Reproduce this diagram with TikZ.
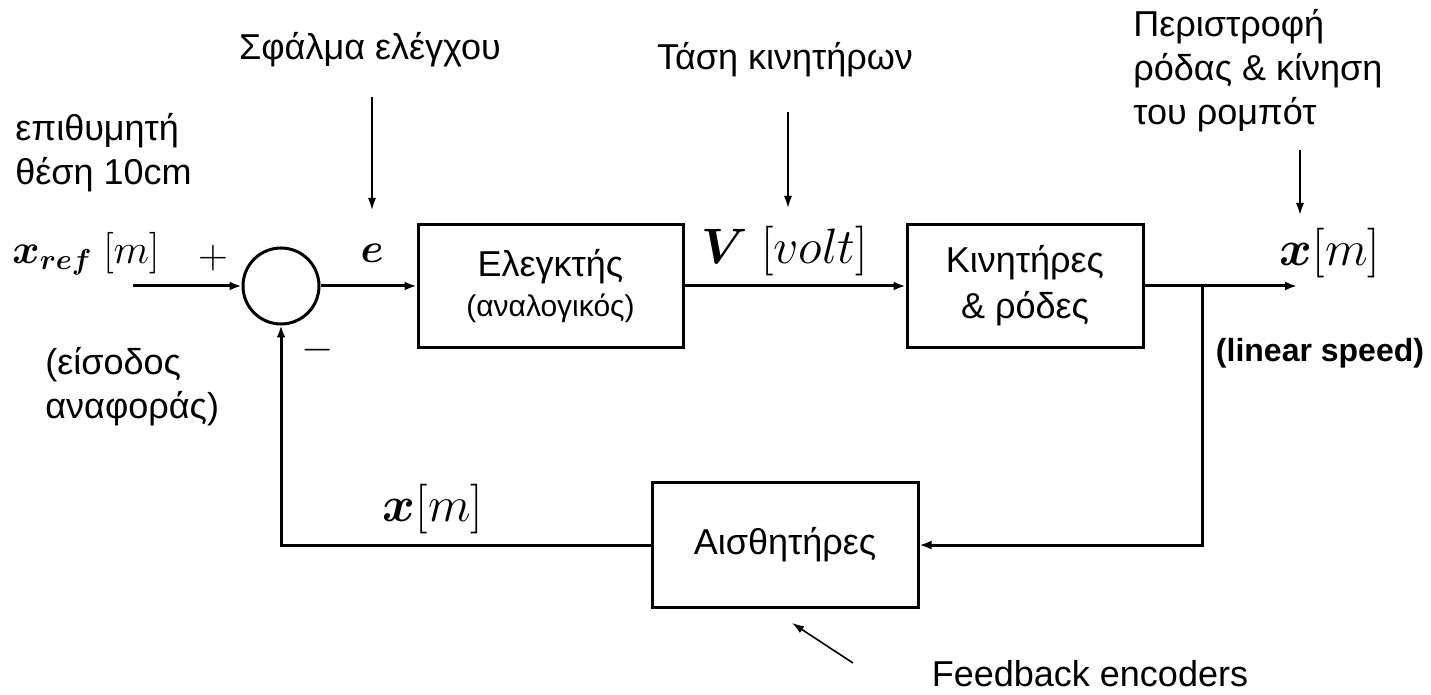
\documentclass[tikz,border=0pt]{standalone}
\usepackage{fontspec}
\usepackage{amsmath}
\usepackage{bm}
\setmainfont{Liberation Sans}
\usetikzlibrary{arrows.meta}
\begin{document}
\begin{tikzpicture}[x=0.5pt,y=-0.5pt,
  blk/.style={draw,line width=1.5pt,minimum width=#1,inner sep=0pt,minimum height=61.5pt,align=center,font=\fontsize{18}{22}\selectfont},
  sumc/.style={draw,circle,line width=1.5pt,minimum size=38pt,inner sep=0pt},
  wire/.style={line width=1.5pt,-{Latex[length=6pt,width=4.5pt]}},
  note/.style={line width=0.8pt,-{Latex[length=6pt,width=4pt]}},
  txt/.style={font=\fontsize{18}{22}\selectfont,inner sep=0pt},
  mlab/.style={font=\fontsize{22}{24}\selectfont,inner sep=0pt}]
\useasboundingbox (0,0) rectangle (1431,695);
% blocks
\node[sumc] (sum) at (281,286) {};
\node[blk=132.5pt] (ctrl) at (550.5,286) {Ελεγκτής\\[-2pt]{\fontsize{15}{18}\selectfont (αναλογικός)}};
\node[blk=118pt] (motor) at (1025,286) {Κινητήρες\\[1pt]\& ρόδες};
\node[blk=133pt,minimum height=62.5pt] (sens) at (785,545) {Αισθητήρες};
% connector coordinates
\coordinate (in) at (133,286);
\coordinate (out) at (1297,286);
\coordinate (br) at (1202,286);
% main connectors
\draw[wire] (in) -- (sum.west);
\draw[wire] (sum.east) -- (ctrl.west);
\draw[wire] (ctrl.east) -- (motor.west);
\draw[wire] (motor.east) -- (out);
\draw[wire] (br) |- (sens.east);
\draw[wire] (sens.west) -| (sum.south);
% signal labels
\node[mlab,font=\fontsize{19.5}{22}\selectfont] (xref) at (86,254) {$\bm{x}_{\bm{ref}}\ [m]$};
\node[mlab] (plus) at (213,258) {$+$};
\node[mlab] (minus) at (318,350) {$-$};
\node[mlab,font=\fontsize{22}{24}\selectfont] (elab) at (372,253) {$\bm{e}$};
\node[mlab,font=\fontsize{23}{24}\selectfont] (vlab) at (785,251) {$\bm{V}\ [volt]$};
\node[mlab,font=\fontsize{24.5}{26}\selectfont] (xout) at (1330,253) {$\bm{x}[m]$};
\node[mlab,font=\fontsize{24.5}{26}\selectfont] (xfb) at (433,509) {$\bm{x}[m]$};
% annotations
\node[txt,align=left,anchor=west] (goal) at (15,153) {επιθυμητή\\θέση 10cm};
\node[txt,align=left,anchor=west] (refin) at (45,387) {(είσοδος\\αναφοράς)};
\node[txt] (errt) at (370,50) {Σφάλμα ελέγχου};
\node[txt] (volt) at (785,60) {Τάση κινητήρων};
\node[txt,align=left,anchor=west] (rot) at (1133,71) {Περιστροφή\\ρόδας \& κίνηση\\του ρομπότ};
\node[txt,font=\fontsize{16}{20}\selectfont\bfseries] (lin) at (1320,353) {(linear speed)};
\node[txt] (fbenc) at (1090,674) {Feedback encoders};
\coordinate (a1s) at (372,97);  \coordinate (a1e) at (372,210);
\coordinate (a2s) at (788,112); \coordinate (a2e) at (788,208);
\coordinate (a3s) at (1300,150); \coordinate (a3e) at (1300,215);
\coordinate (a4s) at (853,663); \coordinate (a4e) at (792,623);
\draw[note] (a1s) -- (a1e);
\draw[note] (a2s) -- (a2e);
\draw[note] (a3s) -- (a3e);
\draw[note] (a4s) -- (a4e);
\end{tikzpicture}
\end{document}
